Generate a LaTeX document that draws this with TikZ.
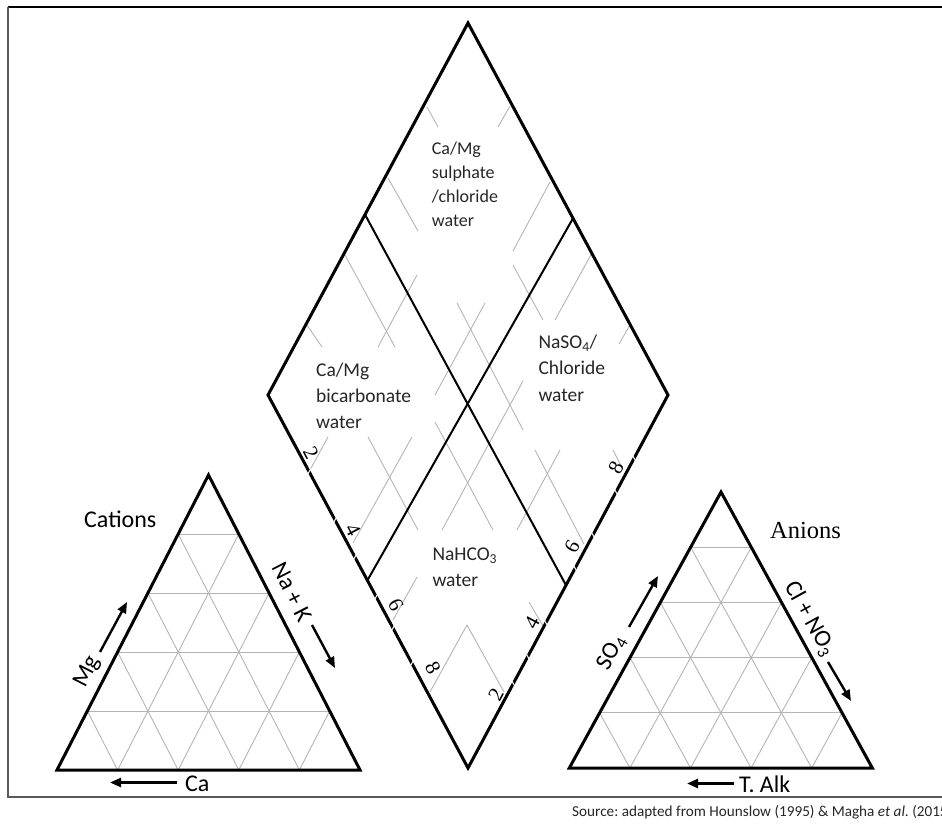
\documentclass[tikz,border=0pt]{standalone}
\usepackage{fontspec}
\setmainfont{Carlito}
\newfontfamily\tnr{Liberation Serif}
\usetikzlibrary{calc,arrows.meta}
\definecolor{gridgrey}{HTML}{B4B4B4}
\definecolor{framegrey}{HTML}{5A5A5A}
\begin{document}
\frenchspacing
\begin{tikzpicture}[x=1pt,y=-1pt,
  edge/.style={line width=3pt,line join=miter,line cap=butt},
  innerline/.style={line width=2pt},
  gridline/.style={line width=0.9pt,draw=gridgrey},
  tickmark/.style={line width=1pt,draw=white},
  arrowline/.style={line width=2.4pt,-{Triangle[length=11pt,width=9pt]}},
  lab/.style={font=\fontsize{19.5}{24}\selectfont,anchor=base west,inner sep=0pt,text=black!85},
  labsmall/.style={font=\fontsize{18}{22}\selectfont,anchor=base west,inner sep=0pt,text=black!85},
  biglab/.style={font=\fontsize{24}{28}\selectfont,inner sep=0pt},
  digit/.style={font=\tnr\fontsize{21}{24}\selectfont,inner sep=0pt}
]
\useasboundingbox (0,0) rectangle (942,825);

% frame
\draw[line width=1.4pt] (8,7) -- (942,7);
\draw[line width=1.5pt,draw=framegrey] (8,7) -- (8,797) -- (942,797);

% ---------------- diamond ----------------
\coordinate (T) at (468,23);
\coordinate (L) at (268,395);
\coordinate (R) at (668,395);
\coordinate (B) at (468,768);

% grey grid fragments
\foreach \xa/\ya/\xb/\yb in {
  427/107/438/127, 510/106/498/127, 388/178/418/231, 550/182/513/251,
  345/255/395/347, 417/275/378/347, 307/325/322/347,
  457/303/523/430, 485/303/435/395, 513/265/543/320, 592/253/555/320,
  630/325/619/344, 523/381/442/530, 435/422/493/530,
  368/437/418/530, 412/437/353/543, 328/437/310/470,
  535/450/584/544, 560/450/517/530, 613/450/623/470,
  417/577/393/620, 467/625/430/692, 467/625/504/692, 529/602/543/626}
  \draw[gridline] (\xa,\ya) -- (\xb,\yb);

% inner dividing lines
\coordinate (ul) at ($(T)!0.515!(L)$);
\coordinate (lr) at ($(R)!0.51!(B)$);
\coordinate (ur) at ($(T)!0.525!(R)$);
\coordinate (ll) at ($(L)!0.497!(B)$);
\draw[innerline] (ul) -- (lr);
\draw[innerline] (ur) -- (ll);

% outer edges
\draw[edge] (T) -- (R) -- (B) -- (L) -- cycle;

% white ticks on lower edges
\foreach \x/\y in {309/472, 335/520, 355/557, 376/597, 393/628, 412/663}
  \draw[tickmark] (\x-2,\y+3.6) -- (\x+2,\y-3.6);
\foreach \x/\y in {634/458, 616/492, 593/535, 575/568, 546/623, 528/657, 513/683}
  \draw[tickmark] (\x+2,\y+3.6) -- (\x-2,\y-3.6);

% digits
\node[digit,rotate=-62] (dl2) at (311,453) {2};
\node[digit,rotate=-62] (dl4) at (353,530) {4};
\node[digit,rotate=-62] (dl6) at (396,605) {6};
\node[digit,rotate=-62] (dl8) at (433,668) {8};
\node[digit,rotate=62] (dr8) at (616,468) {8};
\node[digit,rotate=62] (dr6) at (572,547) {6};
\node[digit,rotate=62] (dr4) at (532,623) {4};
\node[digit,rotate=62] (dr2) at (496,695) {2};

% region labels
\node[labsmall] (s1) at (431.7,154) {Ca/Mg};
\node[labsmall] (s2) at (431.7,178) {sulphate};
\node[labsmall] (s3) at (431.7,202) {/chloride};
\node[labsmall] (s4) at (431.7,226) {water};

\node[lab] (b1) at (316,376) {Ca/Mg};
\node[lab] (b2) at (316,402) {bicarbonate};
\node[lab] (b3) at (316,428.5) {water};

\node[lab] (n1) at (538.3,348.3) {NaSO\textsubscript{4}/};
\node[lab] (n2) at (538.3,374.5) {Chloride};
\node[lab] (n3) at (538.3,401) {water};

\node[lab] (h1) at (432.3,560) {NaHCO\textsubscript{3}};
\node[lab] (h2) at (432.3,586) {water};

% ---------------- cation triangle ----------------
\coordinate (CP) at (208.5,475);
\coordinate (CQ) at (57,770);
\coordinate (CS) at (360,770);
\foreach \k in {1,...,4}{
  \draw[gridline] ($(CP)!\k/5!(CQ)$) -- ($(CP)!\k/5!(CS)$);
  \draw[gridline] ($(CQ)!\k/5!(CS)$) -- ($(CP)!\k/5!(CS)$);
  \draw[gridline] ($(CQ)!\k/5!(CS)$) -- ($(CP)!1-\k/5!(CQ)$);
}
\draw[edge] (CP) -- (CS) -- (CQ) -- cycle;

\node[biglab,anchor=base west] (cat) at (84,527.7) {Cations};
\node[biglab,rotate=62.8] (mg) at (87.5,672) {Mg};
\coordinate (mga) at (100,652);
\coordinate (mgb) at (127,602);
\draw[arrowline] (mga) -- (mgb);
\node[biglab,rotate=-62.8] (nak) at (292,592) {Na + K};
\coordinate (naa) at (312,625);
\coordinate (nab) at (335,668);
\draw[arrowline] (naa) -- (nab);
\node[biglab,anchor=west] (ca) at (185,784) {Ca};
\coordinate (caa) at (177,782.5);
\coordinate (cab) at (110,782.5);
\draw[arrowline] (caa) -- (cab);

% ---------------- anion triangle ----------------
\coordinate (AP) at (721,492);
\coordinate (AQ) at (569.3,768);
\coordinate (AS) at (872.3,768);
\foreach \k in {1,...,4}{
  \draw[gridline] ($(AP)!\k/5!(AQ)$) -- ($(AP)!\k/5!(AS)$);
  \draw[gridline] ($(AQ)!\k/5!(AS)$) -- ($(AP)!\k/5!(AS)$);
  \draw[gridline] ($(AQ)!\k/5!(AS)$) -- ($(AP)!1-\k/5!(AQ)$);
}
\draw[edge] (AP) -- (AS) -- (AQ) -- cycle;

\node[biglab,font=\tnr\fontsize{24.5}{28}\selectfont,anchor=base west] (an) at (770,538.3) {Anions};
\node[biglab,rotate=61.2] (so) at (611.7,653) {SO\textsubscript{4}};
\coordinate (soa) at (629,627);
\coordinate (sob) at (658,576);
\draw[arrowline] (soa) -- (sob);
\node[biglab,rotate=-61.2] (cl) at (810,619) {Cl + NO\textsubscript{3}};
\coordinate (cla) at (828,662);
\coordinate (clb) at (851,701);
\draw[arrowline] (cla) -- (clb);
\node[biglab,anchor=west] (alk) at (739,784) {T. Alk};
\coordinate (alka) at (734,783.5);
\coordinate (alkb) at (687,783.5);
\draw[arrowline] (alka) -- (alkb);

% source
\node[font=\fontsize{15.2}{18}\selectfont,anchor=base west,inner sep=0pt,text=black!85] (src) at (572,816) {Source: adapted from Hounslow (1995) \& Magha \textit{et al}. (2015)};
\end{tikzpicture}
\end{document}
